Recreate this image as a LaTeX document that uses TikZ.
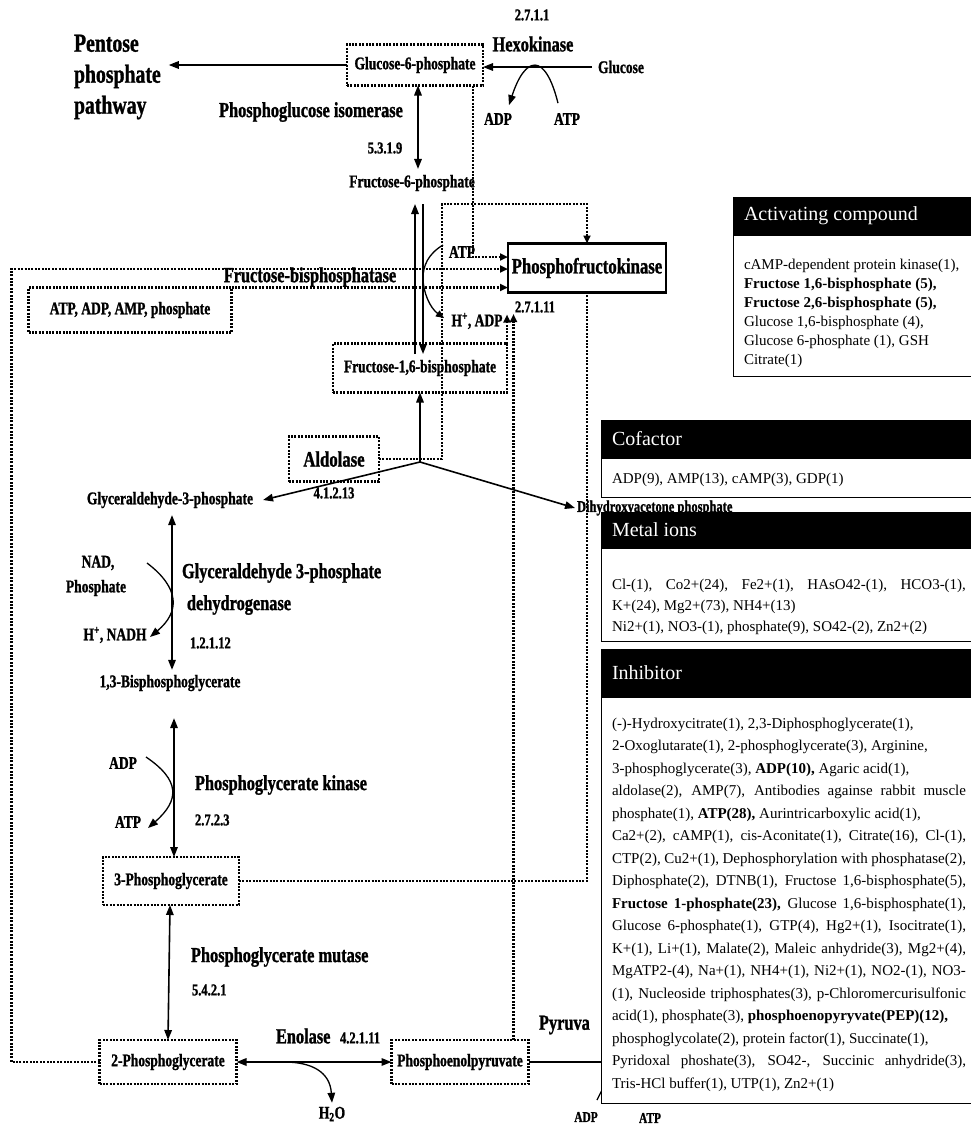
\documentclass[tikz,border=0pt]{standalone}
\usepackage{fontspec}
\setmainfont{Liberation Serif}
\newfontfamily\cnd[FakeStretch=0.76, BoldFeatures={FakeBold=1.2}]{Liberation Serif}
\usetikzlibrary{arrows.meta,calc}
\newcommand\JL[1]{\makebox[354pt][s]{#1}}
\tikzset{
  every node/.style={inner sep=0pt, outer sep=0pt},
  met/.style={font=\cnd\bfseries\fontsize{17.8}{19}\selectfont},
  enz/.style={font=\cnd\bfseries\fontsize{21.5}{23}\selectfont},
  ecn/.style={font=\cnd\bfseries\fontsize{16.5}{18}\selectfont},
  dl/.style={line width=2.1pt, dash pattern=on 2pt off 1.4pt},
  dbox/.style={draw, dl},
  sol/.style={line width=1.6pt},
  thinsol/.style={line width=1.3pt},
  tip/.style={-{Triangle[length=10pt,width=7.5pt]}},
  dtip/.style={{Triangle[length=10pt,width=7.5pt]}-{Triangle[length=10pt,width=7.5pt]}},
  stip/.style={-{Triangle[length=8pt,width=7pt]}},
  ph/.style={font=\fontsize{20}{22}\selectfont, text=white, anchor=west},
  pt/.style={font=\fontsize{15}{17}\selectfont, anchor=base west},
}
\begin{document}
\begin{tikzpicture}[x=1pt,y=-1pt]
\fill[white] (0,0) rectangle (970,1128);
\useasboundingbox (0,0) rectangle (970,1128);

% ---------- top ----------
\node[ecn] (ec1) at (532,15) {2.7.1.1};
\node[enz] (hexo) at (533,44) {Hexokinase};
\node[dbox,met,minimum width=136pt,minimum height=41pt] (g6p) at (415,65) {Glucose-6-phosphate};
\node[met] (glc) at (621,67) {Glucose};
\node[met] (adp1) at (498,119) {ADP};
\node[met] (atp1) at (567,119) {ATP};
\node[font=\cnd\bfseries\fontsize{26}{31}\selectfont, align=left, anchor=west] (ppp) at (74,77) {Pentose\\phosphate\\pathway};
\node[enz] (pgi) at (311,112) {Phosphoglucose isomerase};
\node[ecn] (ec2) at (385,148) {5.3.1.9};
\node[met] (f6p) at (412,183) {Fructose-6-phosphate};

\draw[sol,tip] (g6p.west) -- ([xshift=8pt]g6p.west -| ppp.east);
\draw[sol,tip] ([xshift=-6pt]glc.west) -- (g6p.east |- glc.west);
\draw[thinsol,tip] ($(atp1.north)+(-9,-10)$) .. controls ($(atp1.north)+(-22,-62)$) and ($(adp1.north)+(27,-57)$) .. ($(adp1.north)+(11,-8)$);
\draw[sol,dtip] ([xshift=3pt]g6p.south) -- ([xshift=6pt,yshift=6pt]f6p.north);

% ---------- PFK ----------
\node[draw, line width=2.8pt, minimum width=158pt, minimum height=49pt, font=\cnd\bfseries\fontsize{22}{24}\selectfont] (pfk) at (587,268) {Phosphofructokinase};
\node[ecn] (ec3) at (535,307) {2.7.1.11};
\node[enz] (fbp) at (310,277) {Fructose-bisphosphatase};
\node[dbox,met,minimum width=203pt,minimum height=45pt] (aap) at (130,310) {ATP, ADP, AMP, phosphate};
\node[dbox,met,minimum width=174pt,minimum height=49pt] (f16) at (420,368) {Fructose-1,6-bisphosphate};
\node[met] (atp2) at (462,252) {ATP};
\node[met] (hadp) at (477,321) {H\textsuperscript{+}, ADP};

\coordinate (pl1t) at (415,204);
\coordinate (pl1b) at (415,354);
\coordinate (pl2t) at (423,204);
\coordinate (pl2b) at (423,354);
\draw[sol,tip] (pl1b) -- (pl1t);
\draw[sol,tip] (pl2t) -- (pl2b);
\coordinate (cfs) at (443,245);
\coordinate (cfe) at (444,318);
\draw[thinsol,stip] (cfs) .. controls (428,254) and (423,266) .. (423,278) .. controls (423,292) and (430,308) .. (cfe);

% ---------- aldolase ----------
\node[dbox,font=\cnd\bfseries\fontsize{22}{24}\selectfont,minimum width=90pt,minimum height=45pt] (ald) at (334,459) {Aldolase};
\coordinate (junc) at (420,462);
\node[met] (g3p) at (170,500) {Glyceraldehyde-3-phosphate};
\node[font=\cnd\bfseries\fontsize{16.5}{18}\selectfont, anchor=west] (dhap) at (577,508) {Dihydroxyacetone phosphate};
\draw[sol,tip] (junc) -- (f16.south);
\draw[sol,tip] (junc) -- ([xshift=10pt]g3p.east);
\draw[sol,tip] (junc) -- ([xshift=-2pt]dhap.west);
\node[ecn] (ec4) at (334,493) {4.1.2.13};

% ---------- G3P dehydrogenase ----------
\node[met] (nad) at (98,563) {NAD,};
\node[met] (phos) at (96,588) {Phosphate};
\node[met] (hnadh) at (115,635) {H\textsuperscript{+}, NADH};
\node[enz,anchor=west] (gdh) at (182,573) {Glyceraldehyde 3-phosphate};
\node[enz,anchor=west] (gdh2) at (187,605) {dehydrogenase};
\node[ecn,anchor=west] (ec5) at (190,643) {1.2.1.12};
\node[met] (bpg) at (170,683) {1,3-Bisphosphoglycerate};
\draw[sol,dtip] ([xshift=2pt,yshift=-7pt]g3p.south) -- ([xshift=2pt,yshift=5pt]bpg.north);
\coordinate (c1s) at (147,563);
\coordinate (c1e) at (150,637);
\draw[thinsol,tip] (c1s) .. controls (180,588) and (180,612) .. (c1e);

% ---------- PGK ----------
\node[met] (adp2) at (123,763) {ADP};
\node[met] (atp3) at (128,822) {ATP};
\node[enz,anchor=west] (pgk) at (195,785) {Phosphoglycerate kinase};
\node[ecn,anchor=west] (ec6) at (195,820) {2.7.2.3};
\node[dbox,met,minimum width=136pt,minimum height=48pt] (pg3) at (171,881) {3-Phosphoglycerate};
\draw[sol,dtip] ([xshift=4pt,yshift=-27pt]bpg.south) -- ([xshift=3pt]pg3.north);
\coordinate (c2s) at (146,757);
\coordinate (c2e) at (148,828);
\draw[thinsol,tip] (c2s) .. controls (180,780) and (180,800) .. (c2e);

% ---------- PGM / enolase ----------
\node[enz,anchor=west] (pgm) at (191,957) {Phosphoglycerate mutase};
\node[ecn,anchor=west] (ec7) at (192,990) {5.4.2.1};
\node[dbox,met,minimum width=137pt,minimum height=44pt] (pg2) at (168,1062) {2-Phosphoglycerate};
\node[dbox,met,minimum width=137pt,minimum height=44pt] (pep) at (460,1062) {Phosphoenolpyruvate};
\node[enz,anchor=west] (eno) at (276,1036) {Enolase};
\node[ecn,anchor=west] (ec8) at (340,1038) {4.2.1.11};
\node[met] (h2o) at (332,1114) {H\textsubscript{2}O};
\node[enz,anchor=west] (pyr) at (539,1025) {Pyruva};
\node[font=\cnd\bfseries\fontsize{15}{17}\selectfont] (adp3) at (586,1117) {ADP};
\node[font=\cnd\bfseries\fontsize{15}{17}\selectfont] (atp4) at (650,1118) {ATP};
\draw[sol,dtip] ([xshift=-1pt]pg3.south) -- (pg2.north);
\draw[sol,dtip] (pg2.east) -- (pep.west);
\coordinate (c3s) at (284,1062);
\draw[thinsol,tip] (c3s) .. controls (312,1062) and (330,1072) .. ([yshift=4pt]h2o.north);
\draw[sol] (pep.east) -- ++(80,0);
\draw[thinsol] (597,1100) -- (603,1088);

% ---------- dotted regulation lines ----------
\draw[dl,stip] ([xshift=-10pt]g6p.south east) |- ([yshift=11pt]pfk.west);
\draw[dl,stip] (pg2.west) -- ++(-88,0) |- ([yshift=-1pt]pfk.west);
\draw[dl,stip] (aap.north east) -- (aap.north east -| pfk.west);
\draw[dl,stip] (ald.east) -| (442,204) -| (pfk.north);
\draw[dl,stip] (f16.north east) -- ++(0,-29);
\draw[dl,stip] ([xshift=-15pt]pep.north east) -- ++(0,-726);
\draw[dl] (pg3.east) -| (pfk.south);

% ---------- panels ----------
\fill[black] (733,197) rectangle (975,235);
\draw[line width=0.8pt, fill=white] (733,235) rectangle (975,376);
\node[ph] (h1) at (744,216) {Activating compound};
\node[pt] (a1) at (744,269) {cAMP-dependent protein kinase(1),};
\node[pt] (a2) at (744,288) {\textbf{Fructose 1,6-bisphosphate (5),}};
\node[pt] (a3) at (744,307) {\textbf{Fructose 2,6-bisphosphate (5),}};
\node[pt] (a4) at (744,326) {Glucose 1,6-bisphosphate (4),};
\node[pt] (a5) at (744,345) {Glucose 6-phosphate (1), GSH};
\node[pt] (a6) at (744,364) {Citrate(1)};

\fill[black] (601,420) rectangle (975,458);
\draw[line width=0.8pt, fill=white] (601,458) rectangle (975,497);
\node[ph] (h2) at (612,439) {Cofactor};
\node[pt] (b1) at (612,483) {ADP(9), AMP(13), cAMP(3), GDP(1)};

\fill[black] (601,512) rectangle (975,548);
\draw[line width=0.8pt, fill=white] (601,548) rectangle (975,641);
\node[ph] (h3) at (612,530) {Metal ions};
\node[pt] (m1) at (612,589) {\JL{Cl-(1), Co2+(24), Fe2+(1), HAsO42-(1), HCO3-(1),}};
\node[pt] (m2) at (612,610) {K+(24), Mg2+(73), NH4+(13)};
\node[pt] (m3) at (612,631) {Ni2+(1), NO3-(1), phosphate(9), SO42-(2), Zn2+(2)};

\fill[black] (601,649) rectangle (975,697);
\draw[line width=0.8pt, fill=white] (601,697) rectangle (975,1103);
\node[ph] (h4) at (612,673) {Inhibitor};
\node[pt] (i1) at (612,728) {(-)-Hydroxycitrate(1), 2,3-Diphosphoglycerate(1),};
\node[pt] (i2) at (612,750.5) {2-Oxoglutarate(1), 2-phosphoglycerate(3), Arginine,};
\node[pt] (i3) at (612,773) {3-phosphoglycerate(3), \textbf{ADP(10),} Agaric acid(1),};
\node[pt] (i4) at (612,795.5) {\JL{aldolase(2), AMP(7), Antibodies againse rabbit muscle}};
\node[pt] (i5) at (612,818) {phosphate(1), \textbf{ATP(28),} Aurintricarboxylic acid(1),};
\node[pt] (i6) at (612,840.5) {\JL{Ca2+(2), cAMP(1), cis-Aconitate(1), Citrate(16), Cl-(1),}};
\node[pt] (i7) at (612,863) {\JL{CTP(2), Cu2+(1), Dephosphorylation with phosphatase(2),}};
\node[pt] (i8) at (612,885.5) {\JL{Diphosphate(2), DTNB(1), Fructose 1,6-bisphosphate(5),}};
\node[pt] (i9) at (612,908) {\JL{\textbf{Fructose 1-phosphate(23),} Glucose 1,6-bisphosphate(1),}};
\node[pt] (i10) at (612,930.5) {\JL{Glucose 6-phosphate(1), GTP(4), Hg2+(1), Isocitrate(1),}};
\node[pt] (i11) at (612,953) {\JL{K+(1), Li+(1), Malate(2), Maleic anhydride(3), Mg2+(4),}};
\node[pt] (i12) at (612,975.5) {\JL{MgATP2-(4), Na+(1), NH4+(1), Ni2+(1), NO2-(1), NO3-}};
\node[pt] (i13) at (612,998) {\JL{(1), Nucleoside triphosphates(3), p-Chloromercurisulfonic}};
\node[pt] (i14) at (612,1020.5) {acid(1), phosphate(3), \textbf{phosphoenopyryvate(PEP)(12),}};
\node[pt] (i15) at (612,1043) {phosphoglycolate(2), protein factor(1), Succinate(1),};
\node[pt] (i16) at (612,1065.5) {\JL{Pyridoxal phoshate(3), SO42-, Succinic anhydride(3),}};
\node[pt] (i17) at (612,1088) {Tris-HCl buffer(1), UTP(1), Zn2+(1)};
\end{tikzpicture}
\end{document}
